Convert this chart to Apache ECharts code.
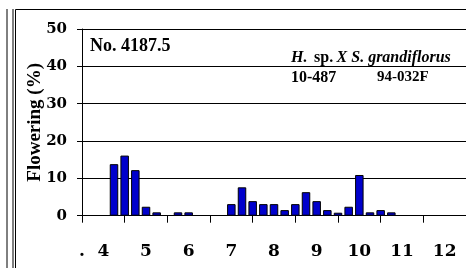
<!DOCTYPE html>
<html>
<head>
  <meta charset="utf-8">
  <title>Flowering</title>
  <script src="https://cdn.jsdelivr.net/npm/echarts@6/dist/echarts.min.js"></script>
</head>
<body style="margin:0;background:#fff">
  <div id="main" style="width: 466px;height:268px;"></div>
  <script type="text/javascript">
    // month labels, first one sits on the axis start
    var monthLabels = ['.', '4', '5', '6', '7', '8', '9', '10', '11', '12'];
    // weekly flowering (%) - 4 weeks per month, 37 slots
    var flowering = [null, null, null, 13.8, 16.1, 12.2, 2.4, 0.9, null, 0.9, 0.9, null, null,
      null, 3.1, 7.6, 3.9, 3.1, 3.1, 1.5, 3.1, 6.3, 3.9, 1.5, 0.8, 2.4, 10.9,
      0.9, 1.5, 0.9, null, null, null, null, null, null, null];
    var yTicks = [0, 10, 20, 30, 40, 50];

    var weeks = [];
    for (var i = 0; i < flowering.length; i++) {
      if (i === 0) weeks.push(monthLabels[0]);
      else if ((i - 2) % 4 === 0) weeks.push(monthLabels[(i - 2) / 4 + 1]);
      else weeks.push('');
    }

    var font = '"Liberation Serif", "Times New Roman", serif';
    var numFont = '"DejaVu Serif", serif';
    var myChart = echarts.init(document.getElementById('main'));

    var option = {
      animation: false,
      grid: { left: 82, top: 29, width: 387, height: 186.7 },
      xAxis: {
        type: 'category',
        boundaryGap: false,
        data: weeks,
        axisLine: { lineStyle: { color: '#000', width: 1 } },
        axisTick: {
          length: 7,
          lineStyle: { color: '#000' },
          interval: function (idx) { return idx % 4 === 0; }
        },
        axisLabel: {
          interval: function (idx, val) { return val !== ''; },
          margin: 27,
          color: '#000',
          fontFamily: numFont,
          fontWeight: 'bold',
          fontSize: 17
        },
        splitLine: { show: false }
      },
      yAxis: {
        type: 'value',
        min: yTicks[0],
        max: yTicks[yTicks.length - 1],
        interval: 10,
        name: 'Flowering (%)',
        nameLocation: 'middle',
        nameGap: 37,
        nameMoveOverlap: false,
        nameTextStyle: { color: '#000', fontFamily: font, fontWeight: 'bold', fontSize: 19 },
        axisLine: { show: true, lineStyle: { color: '#000' } },
        axisTick: { show: true, length: 5, lineStyle: { color: '#000' } },
        axisLabel: {
          margin: 15,
          color: '#000',
          fontFamily: numFont,
          fontWeight: 'bold',
          fontSize: 15
        },
        splitLine: { show: true, lineStyle: { color: '#000', width: 1 } }
      },
      series: [{
        type: 'bar',
        data: flowering,
        barWidth: 8.5,
        itemStyle: { color: '#0000cc', borderColor: '#000', borderWidth: 1 }
      }],
      graphic: [
        { type: 'line', shape: { x1: 7, y1: 9, x2: 7, y2: 268 }, style: { stroke: '#000', lineWidth: 1 } },
        { type: 'line', shape: { x1: 13, y1: 9, x2: 13, y2: 268 }, style: { stroke: '#000', lineWidth: 1 } },
        { type: 'line', shape: { x1: 15.5, y1: 9.5, x2: 15.5, y2: 268 }, style: { stroke: '#000', lineWidth: 1 } },
        { type: 'line', shape: { x1: 15.5, y1: 9.5, x2: 466, y2: 9.5 }, style: { stroke: '#000', lineWidth: 1 } },
        {
          type: 'text', left: 90, top: 37,
          style: { text: 'No. 4187.5', font: 'bold 18px ' + font, fill: '#000' }
        },
        {
          type: 'text', left: 291, top: 50,
          style: {
            text: '{i|H.}  {n|sp.} {i|X S. grandiflorus}',
            rich: {
              i: { font: 'italic bold 16px ' + font, fill: '#000' },
              n: { font: 'bold 16px ' + font, fill: '#000' }
            }
          }
        },
        {
          type: 'text', left: 291, top: 70,
          style: { text: '10-487', font: 'bold 16px ' + font, fill: '#000' }
        },
        {
          type: 'text', left: 377, top: 70,
          style: { text: '94-032F', font: 'bold 15px ' + font, fill: '#000' }
        }
      ]
    };

    myChart.setOption(option);
  </script>
</body>
</html>
